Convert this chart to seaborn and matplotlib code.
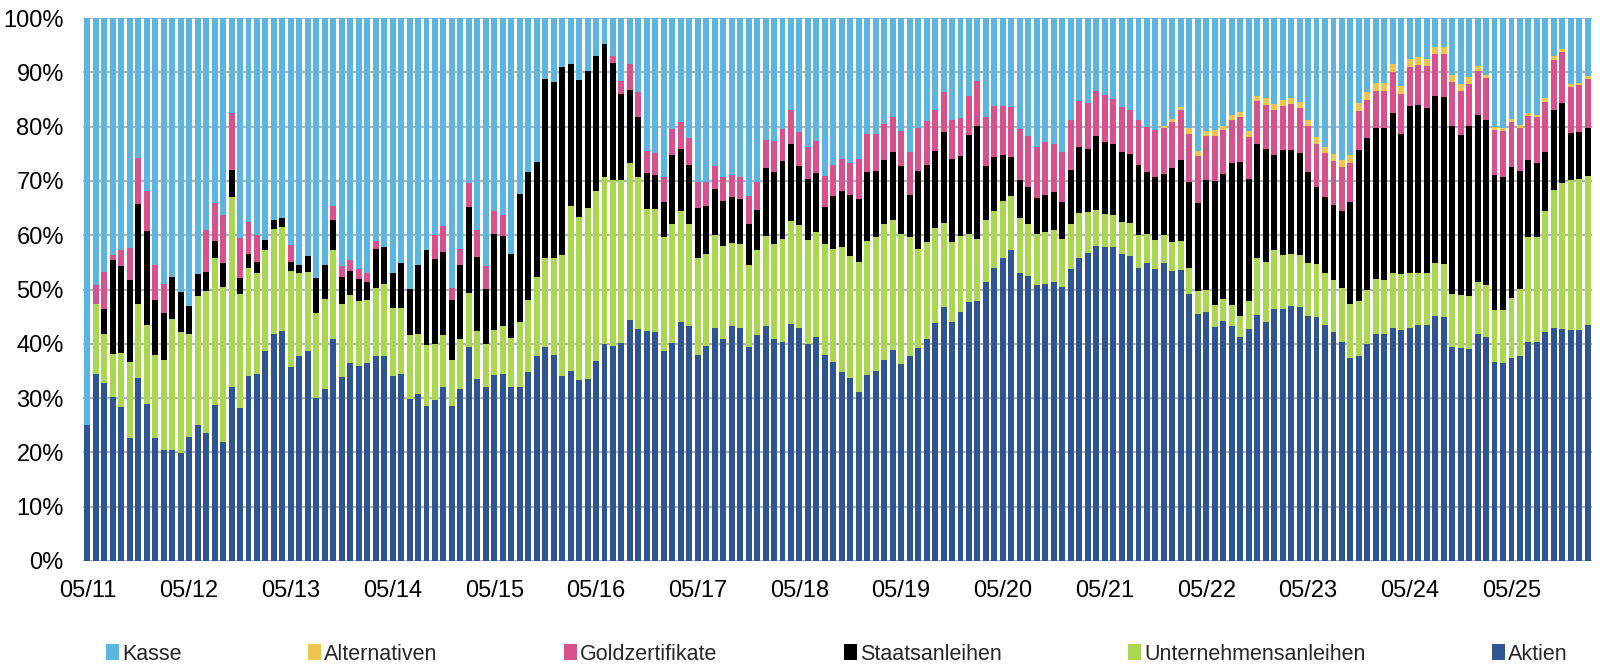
import numpy as np
import pandas as pd
import matplotlib
matplotlib.use("Agg")
import matplotlib.pyplot as plt
from matplotlib.patches import Patch
import seaborn as sns

# ---- data (percent of portfolio, monthly from 05/2011) ----
aktien = [25.1, 34.5, 32.8, 30.2, 28.4, 22.7, 33.7, 28.9, 22.7, 20.4, 20.4, 19.8, 22.8, 25.1, 23.5, 28.8, 21.9, 32.0,
          28.1, 34.0, 34.5, 38.6, 41.9, 42.4, 35.7, 37.8, 38.6, 30.1, 31.7, 40.8, 33.8, 36.5, 36.0, 36.5, 37.7,
          37.8, 34.1, 34.5, 29.9, 30.8, 28.6, 29.7, 32.1, 28.5, 31.6, 39.5, 33.6, 32.0, 34.2, 34.5, 32.0, 32.0,
          34.8, 37.7, 39.5, 38.0, 34.1, 35.0, 33.3, 33.6, 36.9, 40.0, 39.6, 40.2, 44.4, 42.8, 42.4, 42.1, 38.7, 40.2,
          44.1, 43.2, 38.0, 39.6, 43.0, 40.9, 43.3, 43.0, 39.5, 41.6, 43.3, 40.9, 40.3, 43.7, 43.0, 40.0, 41.3, 37.9,
          36.7, 34.9, 33.7, 31.1, 34.3, 35.0, 37.0, 38.8, 36.3, 37.7, 39.3, 40.9, 43.9, 46.7, 44.1, 45.8, 47.7,
          47.8, 51.3, 54.0, 55.9, 57.2, 53.1, 52.5, 50.9, 51.1, 51.3, 50.4, 53.7, 55.8, 56.8, 58.1, 57.9, 57.9, 56.5,
          56.1, 53.9, 54.9, 53.8, 54.8, 53.5, 53.6, 49.2, 45.5, 45.9, 43.1, 44.2, 43.3, 41.2, 42.8, 45.3, 44.1, 46.5,
          46.5, 46.9, 46.7, 45.1, 45.0, 43.4, 42.1, 40.4, 37.3, 37.8, 39.9, 41.9, 41.9, 43.0, 42.5, 43.0, 43.4, 43.4,
          45.1, 44.9, 39.4, 39.3, 39.1, 41.9, 41.3, 36.6, 36.4, 37.3, 37.7, 40.3, 40.3, 42.1, 43.0, 42.8, 42.6, 42.6, 43.5]

unternehmensanleihen = [0.0, 12.9, 9.1, 7.9, 10.0, 14.0, 13.7, 14.6, 15.2, 16.7, 24.2, 22.3, 19.0, 23.7, 26.2, 27.0, 28.6, 35.0,
          21.1, 20.0, 18.5, 18.7, 19.2, 19.2, 17.8, 15.2, 14.7, 15.6, 16.6, 16.5, 13.6, 12.5, 11.8, 11.5, 12.6,
          13.3, 12.5, 12.1, 11.7, 11.0, 11.2, 10.3, 9.6, 8.5, 9.3, 9.9, 8.8, 7.9, 8.4, 8.7, 9.1, 12.0,
          13.2, 14.7, 16.3, 17.9, 22.2, 30.3, 30.0, 31.5, 31.3, 30.7, 30.5, 29.9, 28.9, 27.9, 22.5, 22.7, 20.9, 21.8,
          20.4, 18.8, 17.8, 17.0, 17.1, 17.2, 15.3, 15.4, 15.0, 15.6, 16.5, 17.4, 19.1, 18.9, 18.8, 19.2, 19.3, 20.4,
          20.7, 23.0, 22.4, 23.9, 24.7, 24.6, 25.0, 24.1, 24.0, 22.0, 18.1, 17.9, 17.4, 15.5, 14.6, 14.0, 12.5,
          11.5, 11.5, 10.5, 10.4, 10.1, 10.1, 9.5, 9.3, 9.5, 9.7, 8.9, 8.4, 8.3, 7.5, 6.6, 6.0, 5.8, 6.0,
          6.2, 6.2, 5.4, 5.3, 5.2, 5.3, 5.3, 4.8, 4.2, 4.0, 4.0, 4.1, 3.9, 4.0, 5.0, 10.6, 10.9, 10.8,
          9.8, 9.6, 9.7, 9.7, 9.7, 9.6, 9.7, 9.8, 10.1, 10.0, 10.0, 10.0, 9.9, 10.1, 10.3, 10.1, 9.7, 9.6,
          9.7, 9.8, 9.8, 9.7, 9.7, 9.4, 9.5, 9.6, 9.9, 11.2, 12.4, 19.4, 19.4, 22.4, 25.3, 26.8, 27.5, 27.8, 27.5]

staatsanleihen = [0.0, 0.0, 4.5, 17.4, 15.9, 15.1, 18.3, 17.3, 10.2, 8.6, 7.7, 7.4, 5.1, 4.1, 3.6, 3.2, 4.4, 5.1,
          3.0, 2.5, 2.1, 1.8, 1.8, 1.6, 1.6, 1.5, 2.9, 6.5, 6.2, 5.6, 4.9, 4.5, 4.2, 3.3, 7.1,
          6.7, 6.4, 8.3, 8.5, 12.7, 17.4, 15.7, 15.3, 11.0, 13.6, 15.8, 13.6, 10.2, 17.7, 16.7, 15.4, 23.6,
          23.6, 21.1, 32.9, 32.4, 34.7, 26.2, 25.3, 25.1, 24.8, 24.5, 21.6, 15.9, 13.4, 11.1, 6.6, 6.3, 6.5, 12.8,
          11.4, 11.0, 9.2, 8.7, 8.5, 8.3, 8.4, 8.2, 7.6, 7.5, 12.5, 13.4, 14.3, 14.2, 11.0, 11.1, 10.9, 6.9,
          9.9, 10.2, 11.4, 11.6, 12.6, 12.2, 11.8, 12.4, 12.4, 7.8, 14.5, 14.1, 14.3, 16.9, 15.3, 14.8, 18.3,
          20.9, 9.9, 9.9, 8.4, 7.2, 6.9, 6.9, 6.7, 6.9, 7.0, 6.9, 10.0, 12.1, 11.6, 13.6, 13.2, 13.1, 12.8,
          12.7, 12.8, 11.4, 11.6, 11.3, 13.5, 14.9, 15.9, 16.2, 20.2, 22.9, 23.0, 26.1, 28.3, 22.5, 20.9, 20.9, 17.4,
          19.4, 19.2, 18.8, 16.9, 14.2, 14.1, 13.7, 14.3, 18.8, 27.9, 28.0, 27.8, 27.9, 29.5, 25.9, 30.7, 30.9, 30.5,
          30.8, 30.7, 30.9, 29.5, 31.3, 30.9, 30.5, 24.9, 24.5, 24.0, 21.7, 14.1, 13.6, 10.8, 14.8, 14.7, 8.8, 8.6, 8.8]

goldzertifikate = [0.0, 3.5, 6.9, 0.8, 2.9, 5.9, 8.5, 7.4, 6.4, 5.4, 0.0, 0.0, 0.0, 0.0, 7.6, 6.9, 8.8, 10.4,
          7.3, 6.0, 5.0, 0.0, 0.0, 0.0, 3.1, 0.0, 0.0, 0.0, 0.0, 2.4, 2.0, 1.9, 1.8, 1.8, 1.5,
          0.0, 0.0, 0.0, 0.0, 0.0, 0.0, 4.3, 4.7, 2.3, 3.0, 4.4, 5.0, 4.2, 4.2, 3.8, 0.0, 0.0,
          0.0, 0.0, 0.0, 0.0, 0.0, 0.0, 0.0, 0.0, 0.0, 0.0, 1.3, 2.4, 4.9, 4.5, 4.1, 4.1, 4.7, 4.7,
          5.0, 4.9, 4.8, 4.5, 4.2, 4.4, 4.1, 4.2, 5.1, 5.1, 5.3, 5.6, 5.9, 6.2, 6.2, 6.0, 5.8, 5.8,
          5.6, 5.9, 5.8, 7.4, 7.1, 6.8, 6.7, 6.4, 6.5, 7.8, 7.8, 8.1, 7.5, 7.3, 7.3, 7.0, 7.2,
          8.2, 9.1, 9.4, 9.1, 9.1, 9.5, 9.4, 9.4, 9.6, 8.8, 9.1, 9.2, 8.5, 8.4, 8.2, 8.8, 8.3, 8.3,
          8.1, 8.3, 8.2, 8.7, 8.4, 8.5, 9.3, 8.7, 8.7, 8.2, 8.3, 8.1, 8.0, 8.3, 7.8, 7.9, 8.1, 8.3,
          8.1, 8.5, 8.2, 8.4, 8.0, 8.1, 8.2, 8.0, 7.2, 7.1, 7.0, 6.9, 6.9, 7.5, 7.3, 7.2, 7.4, 7.6,
          7.7, 7.9, 8.2, 8.1, 7.8, 8.1, 7.6, 8.3, 8.4, 8.4, 8.0, 8.2, 8.4, 9.2, 9.2, 9.5, 8.5, 8.6, 9.0]

alternativen = [0.0, 0.0, 0.0, 0.0, 0.0, 0.0, 0.0, 0.0, 0.0, 0.0, 0.0, 0.0, 0.0, 0.0, 0.0, 0.0, 0.0, 0.0,
          0.0, 0.0, 0.0, 0.0, 0.0, 0.0, 0.0, 0.0, 0.0, 0.0, 0.0, 0.0, 0.0, 0.0, 0.0, 0.0, 0.0,
          0.0, 0.0, 0.0, 0.0, 0.0, 0.0, 0.0, 0.0, 0.0, 0.0, 0.0, 0.0, 0.0, 0.0, 0.0, 0.0, 0.0,
          0.0, 0.0, 0.0, 0.0, 0.0, 0.0, 0.0, 0.0, 0.0, 0.0, 0.0, 0.0, 0.0, 0.0, 0.0, 0.0, 0.0, 0.0,
          0.0, 0.0, 0.0, 0.0, 0.0, 0.0, 0.0, 0.0, 0.0, 0.0, 0.0, 0.0, 0.0, 0.0, 0.0, 0.0, 0.0, 0.0,
          0.0, 0.0, 0.0, 0.0, 0.0, 0.0, 0.0, 0.0, 0.0, 0.0, 0.0, 0.0, 0.0, 0.0, 0.0, 0.0, 0.0,
          0.0, 0.0, 0.0, 0.0, 0.0, 0.0, 0.0, 0.0, 0.0, 0.0, 0.0, 0.0, 0.0, 0.0, 0.0, 0.0, 0.0, 0.0,
          0.0, 0.0, 0.0, 0.0, 0.4, 0.7, 0.5, 1.1, 1.0, 0.9, 1.0, 0.8, 0.9, 0.9, 1.1, 1.0, 1.2, 1.1,
          1.1, 1.0, 1.2, 1.2, 1.2, 1.1, 1.2, 1.4, 1.3, 1.5, 1.5, 1.5, 1.4, 1.4, 1.5, 1.5, 1.5, 1.3,
          1.3, 1.3, 1.3, 1.3, 1.2, 0.9, 0.6, 0.5, 0.5, 0.6, 0.5, 0.6, 0.5, 0.7, 0.7, 0.6, 0.5, 0.5, 0.5]

tick_labels = ["05/11", "05/12", "05/13", "05/14", "05/15", "05/16", "05/17",
               "05/18", "05/19", "05/20", "05/21", "05/22", "05/23", "05/24", "05/25"]
y_labels = ["0%", "10%", "20%", "30%", "40%", "50%", "60%", "70%", "80%", "90%", "100%"]

series_names = ["Kasse", "Alternativen", "Goldzertifikate", "Staatsanleihen",
                "Unternehmensanleihen", "Aktien"]
colors = {"Kasse": "#5CB5DF", "Alternativen": "#EDC54C", "Goldzertifikate": "#D8518D",
          "Staatsanleihen": "#000000", "Unternehmensanleihen": "#ABD651", "Aktien": "#2E5491"}

# ---- build stacked tops (100 % stacked; Kasse is the remainder up to 100 %) ----
n = len(aktien)
df = pd.DataFrame({
    "idx": np.arange(n),
    "Aktien": aktien,
    "Unternehmensanleihen": unternehmensanleihen,
    "Staatsanleihen": staatsanleihen,
    "Goldzertifikate": goldzertifikate,
    "Alternativen": alternativen,
})
stack_order = ["Aktien", "Unternehmensanleihen", "Staatsanleihen", "Goldzertifikate", "Alternativen"]
tops = df[stack_order].cumsum(axis=1)
tops["Kasse"] = 100.0

sns.set_theme(style="white")
plt.rcParams["font.family"] = ["Liberation Sans Narrow", "Liberation Sans", "DejaVu Sans"]

fig, ax = plt.subplots(figsize=(16, 6.71), dpi=100)
fig.subplots_adjust(left=0.052, right=0.995, top=0.973, bottom=0.164)

for name in series_names:  # draw from top layer down so lower layers overlay
    sns.barplot(x=df["idx"], y=tops[name], color=colors[name], saturation=1,
                width=0.7, errorbar=None, linewidth=0, edgecolor="none", ax=ax)

ax.set_xlim(-0.5, n - 0.5)
ax.set_ylim(0, 100)
ax.set_yticks(np.arange(0, 101, 10))
ax.set_yticklabels(y_labels)
ax.set_xticks(np.arange(0, 12 * len(tick_labels), 12))
ax.set_xticklabels(tick_labels)
ax.set_xlabel("")
ax.set_ylabel("")
ax.tick_params(axis="both", length=0, labelsize=17, colors="#000000")
ax.tick_params(axis="y", pad=14)
ax.tick_params(axis="x", pad=14)
ax.yaxis.grid(True, color="#A7AEB7", linewidth=1.3)
ax.set_axisbelow(True)
for s in ax.spines.values():
    s.set_visible(False)

handles = [Patch(facecolor=colors[nm], edgecolor="none") for nm in series_names]
fig.legend(handles, series_names, loc="center", bbox_to_anchor=(0.523, 0.025), ncol=6,
           frameon=False, fontsize=15.5, handlelength=0.62, handleheight=0.8,
           handletextpad=0.15, columnspacing=5.85)

fig.savefig("out.png", dpi=100)
